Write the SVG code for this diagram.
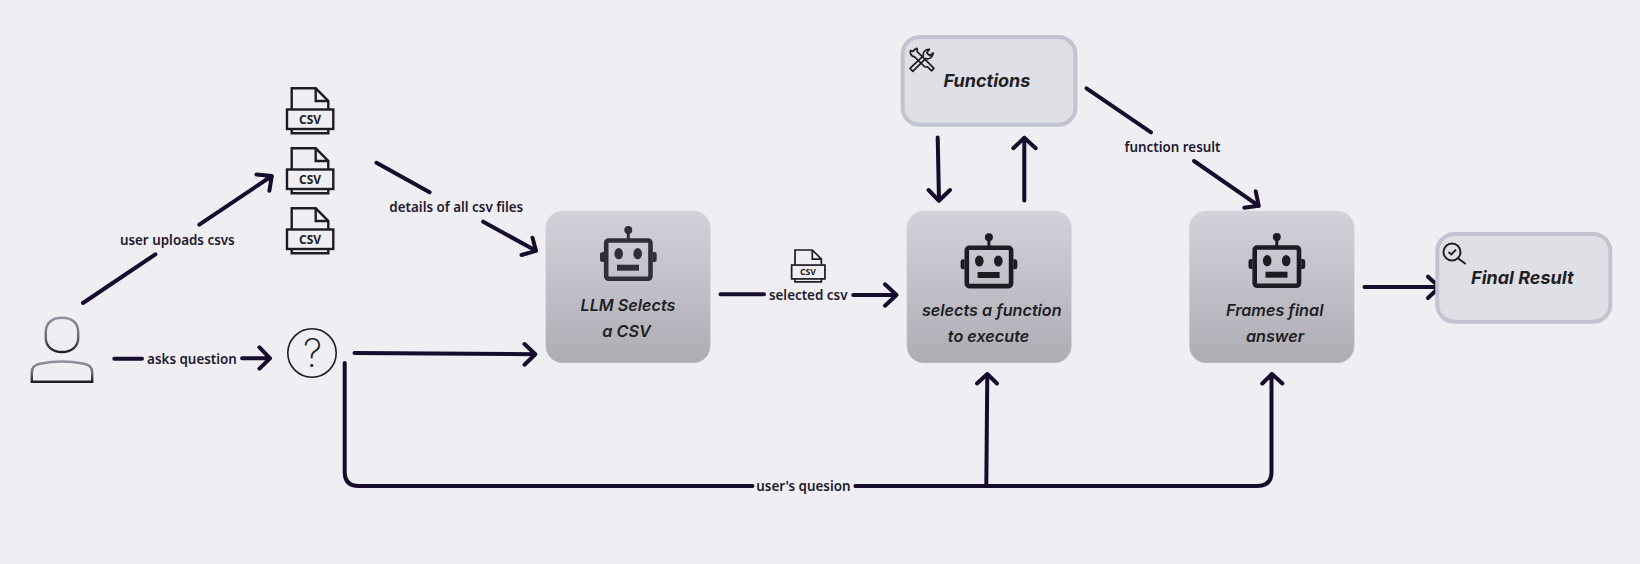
<svg xmlns="http://www.w3.org/2000/svg" xmlns:xlink="http://www.w3.org/1999/xlink" width="1640" height="564" viewBox="0 0 1640 564">
<style>
.c{fill:none;stroke:#170c2c;stroke-width:4;stroke-linecap:round;stroke-linejoin:round}
.l{font-family:"Noto Sans","Open Sans",sans-serif;font-weight:600;font-size:13.4px;fill:#1f1a2e;text-anchor:middle}
.n{font-family:Inter,"Liberation Sans",sans-serif;font-weight:600;font-style:italic;font-size:16.2px;fill:#1f1f26;text-anchor:middle}
.t{font-family:Inter,"Liberation Sans",sans-serif;font-weight:700;font-style:italic;font-size:18px;fill:#1f1f26;text-anchor:middle}
.a{fill:url(#ag);stroke:#d8d7df;stroke-width:.5}
.b{fill:#dfe0e5;stroke:#c2c3d0;stroke-width:4}
.i{fill:none;stroke:#1c1c22;stroke-width:2.4}
.v{font-family:"Noto Sans",sans-serif;font-weight:700;font-size:12px;fill:#1c1c22;text-anchor:middle}
</style>
<defs>
<linearGradient id="ag" x1="0" y1="0" x2="0" y2="1"><stop offset="0" stop-color="#d3d2db"/><stop offset="1" stop-color="#aeacb3"/></linearGradient>
<linearGradient id="ug" x1="0" y1="0" x2="0" y2="1"><stop offset="0" stop-color="#8f909d"/><stop offset=".55" stop-color="#6b6c78"/><stop offset="1" stop-color="#1c1c22"/></linearGradient>
<g id="robot">
<path d="M628.3 230V240" fill="none" stroke="currentColor" stroke-width="3"/>
<circle cx="628.3" cy="230" r="4" fill="currentColor"/>
<rect x="606.2" y="240.5" width="44.3" height="38.3" rx="2.5" fill="none" stroke="currentColor" stroke-width="4.6"/>
<path d="M604 252h-1.5a2.5 2.5 0 0 0-2.5 2.5v5a2.5 2.5 0 0 0 2.5 2.5H604zM652.7 252h1.5a2.5 2.5 0 0 1 2.5 2.5v5a2.5 2.5 0 0 1-2.5 2.5h-1.5z" fill="currentColor"/>
<ellipse cx="618.7" cy="253.7" rx="4.3" ry="5.6" fill="currentColor"/>
<ellipse cx="637.7" cy="253.7" rx="4.3" ry="5.6" fill="currentColor"/>
<rect x="617" y="264.7" width="22" height="6" fill="currentColor"/>
</g>
<g id="csv">
<path class="i" d="M291.7 109V88.3H315.7L328.3 101V109M291.7 129V133.3H328.3V129"/>
<path class="i" d="M315.7 88.3V101H328.3"/>
<rect class="i" x="287" y="109.5" width="46.3" height="19.5"/>
</g>
</defs>
<rect width="1640" height="564" fill="#efeef3"/>
<g id="connectors">
<path class="c" d="M83 303L155.4 254.3M199.3 224.7L271.8 176M256.5 174.5L271.8 176L269.4 190.7"/>
<path class="c" d="M114.3 358.7H142M242.1 358.3H270M259.5 347.3L270 358.3L259.5 368.7"/>
<path class="c" d="M376.5 162.8L429.6 192.3M483.2 221.7L536 250.8M532.5 237.7L536 250.8L521.5 255"/>
<path class="c" d="M354.5 353L535.3 354.3M524.5 344L535.3 354.3L524.5 364.7"/>
<path class="c" d="M344.7 363V472Q344.7 486 358.7 486H752.5M855.4 486H1257Q1271.5 486 1271.5 472V374M1262.3 383.5L1272 374L1282.4 383.5"/>
<path class="c" d="M986.3 486L987.3 374M977 383.5L987.3 374L997 383.5"/>
<path class="c" d="M720.5 294.3H764M853.2 295H896.5M885 284.3L896.5 295L885 305.7"/>
<path class="c" d="M937.7 137.5L939 200.8M928.5 190L939 200.8L950 190"/>
<path class="c" d="M1024.3 200.5V137.8M1013.3 148.2L1024.3 137.8L1035.7 148.2"/>
<path class="c" d="M1086.5 88.3L1151 132.3M1194 161L1258.8 205.8M1255.7 191.3L1258.8 205.8L1244.3 207.7"/>
<path class="c" d="M1364.5 287H1439.5M1428 276.7L1439.5 287L1428 298"/>
<text class="l" x="177.3" y="244.8">user uploads csvs</text>
<text class="l" x="192" y="363.5">asks question</text>
<text class="l" x="456.3" y="212.3">details of all csv files</text>
<text class="l" x="808.2" y="299.5">selected csv</text>
<text class="l" x="1172.5" y="151.8">function result</text>
<text class="l" x="803.4" y="491">user's quesion</text>
</g>
<g id="user">
<path d="M45.8 332C45.8 323 52 317.8 62 317.8C72 317.8 78.2 323 78.2 332V338C78.2 347 71 352 62 352C53 352 45.8 347 45.8 338Z" fill="none" stroke="url(#ug)" stroke-width="2.4"/>
<path d="M31.8 381.7V372.5C31.8 366.5 35 364.8 40 363.8C55 360.7 69 360.7 84 363.8C89 364.8 92.2 366.5 92.2 372.5V381.7Z" fill="none" stroke="url(#ug)" stroke-width="2.4"/>
</g>
<g id="csv1"><use href="#csv"/><text class="v" x="310" y="123.6">CSV</text></g>
<g id="csv2"><use href="#csv" y="60"/><text class="v" x="310" y="183.6">CSV</text></g>
<g id="csv3"><use href="#csv" y="120"/><text class="v" x="310" y="243.6">CSV</text></g>
<g id="question">
<circle cx="312" cy="353" r="24.2" fill="none" stroke="#1c1c22" stroke-width="1.6"/>
<text x="312.5" y="367" font-family="Inter,'Liberation Sans',sans-serif" font-weight="200" font-size="39" fill="#1c1c22" text-anchor="middle">?</text>
</g>
<g id="llm">
<rect class="a" x="545.7" y="211" width="164.7" height="152" rx="17"/>
<use href="#robot" color="#2e2f38"/>
<text class="n" x="628" y="310.7">LLM Selects</text>
<text class="n" x="626.5" y="336.7">a CSV</text>
</g>
<g id="selected-csv">
<g transform="translate(808.2 249.3) scale(.72 .71) translate(-310 -87.3)"><use href="#csv"/></g>
<text class="v" x="808" y="275" style="font-size:8.6px">CSV</text>
</g>
<g id="selects">
<rect class="a" x="906.8" y="211" width="164.7" height="152" rx="17"/>
<use href="#robot" x="360.6" y="7.3" color="#1c1c22"/>
<text class="n" x="991.8" y="316">selects a function</text>
<text class="n" x="988.5" y="342">to execute</text>
</g>
<g id="functions">
<rect class="b" x="902.7" y="37" width="172.7" height="87.7" rx="17"/>
<g fill="none" stroke="#1c1c22" stroke-width="1.7" stroke-linejoin="round">
<path d="M927.6 66.8L931.6 70.8L934 68.3L917 51.3C917.8 49 917 47.5 915.5 49L912.7 51.5L910.5 50.5C909.8 53 911 56.5 914.6 56.8L925 67Z"/>
<path d="M910 68.3L912.8 71.4L925.6 58.6C928.9 59.6 933 57.5 933.2 53L929.7 55.7L926.7 52.7L929.5 49.3C925 49 922.6 52.5 923.3 55.8Z"/>
</g>
<text class="t" x="987" y="86.7">Functions</text>
</g>
<g id="frames">
<rect class="a" x="1189.3" y="211" width="165" height="152" rx="17"/>
<use href="#robot" x="648.5" y="7" color="#1c1c22"/>
<text class="n" x="1274.7" y="316">Frames final</text>
<text class="n" x="1275" y="342">answer</text>
</g>
<g id="final-result">
<rect class="b" x="1437.3" y="234" width="173" height="87.7" rx="17"/>
<g fill="none" stroke="#1c1c22" stroke-width="1.9">
<circle cx="1452" cy="252" r="8.5"/>
<path d="M1458.3 258.5L1465.7 264"/>
<path d="M1448.5 252L1451.3 254.5L1456 249.7"/>
</g>
<text class="t" x="1522.3" y="283.7">Final Result</text>
</g>
</svg>
